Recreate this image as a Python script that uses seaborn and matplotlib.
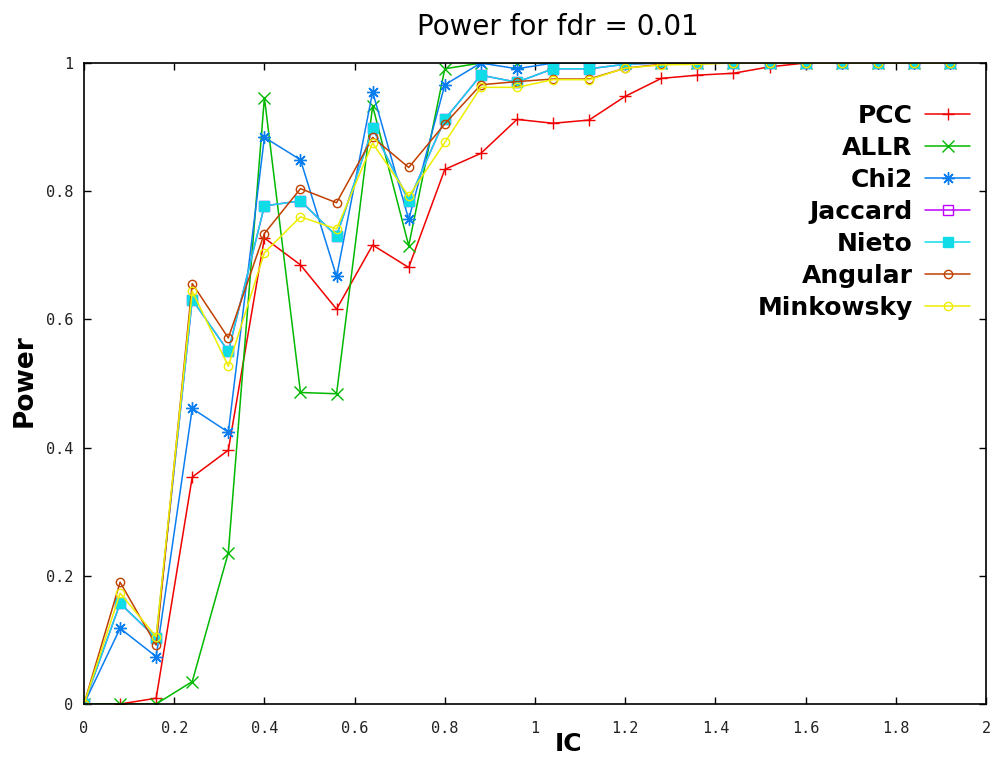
import matplotlib
matplotlib.use("Agg")
import matplotlib.pyplot as plt
import seaborn as sns

# IC grid on which the power was evaluated
ic = [0.00, 0.08, 0.16, 0.24, 0.32, 0.40, 0.48, 0.56, 0.64, 0.72,
      0.80, 0.88, 0.96, 1.04, 1.12, 1.20, 1.28, 1.36, 1.44, 1.52,
      1.60, 1.68, 1.76, 1.84, 1.92]

# Power of each similarity measure at fdr = 0.01
pcc = [0.000, 0.000, 0.009, 0.354, 0.396, 0.727, 0.685, 0.616, 0.716, 0.681,
       0.834, 0.859, 0.912, 0.906, 0.911, 0.948, 0.976, 0.981, 0.984, 0.994,
       1.000, 1.000, 1.000, 1.000, 1.000]
allr = [0.000, 0.000, 0.000, 0.035, 0.236, 0.946, 0.486, 0.484, 0.933, 0.715,
        0.991, 1.000, 1.000, 1.000, 1.000, 1.000, 1.000, 1.000, 1.000, 1.000,
        1.000, 1.000, 1.000, 1.000, 1.000]
chi2 = [0.000, 0.118, 0.074, 0.461, 0.424, 0.884, 0.849, 0.667, 0.955, 0.756,
        0.966, 1.000, 0.991, 1.000, 1.000, 1.000, 1.000, 1.000, 1.000, 1.000,
        1.000, 1.000, 1.000, 1.000, 1.000]
jaccard = [0.000, 0.157, 0.103, 0.631, 0.550, 0.777, 0.785, 0.730, 0.898, 0.785,
           0.912, 0.981, 0.970, 0.991, 0.991, 0.998, 1.000, 1.000, 1.000, 1.000,
           1.000, 1.000, 1.000, 1.000, 1.000]
nieto = [0.000, 0.157, 0.103, 0.631, 0.550, 0.777, 0.785, 0.730, 0.898, 0.785,
         0.912, 0.981, 0.970, 0.991, 0.991, 0.998, 1.000, 1.000, 1.000, 1.000,
         1.000, 1.000, 1.000, 1.000, 1.000]
angular = [0.000, 0.190, 0.092, 0.656, 0.571, 0.734, 0.804, 0.782, 0.884, 0.837,
           0.905, 0.966, 0.971, 0.975, 0.975, 0.992, 0.998, 0.999, 1.000, 1.000,
           1.000, 1.000, 1.000, 1.000, 1.000]
minkowsky = [0.000, 0.173, 0.105, 0.644, 0.527, 0.704, 0.760, 0.741, 0.875, 0.792,
             0.876, 0.962, 0.962, 0.974, 0.974, 0.992, 0.997, 0.998, 1.000, 1.000,
             1.000, 1.000, 1.000, 1.000, 1.000]

measures = ["PCC", "ALLR", "Chi2", "Jaccard", "Nieto", "Angular", "Minkowsky"]
series = [pcc, allr, chi2, jaccard, nieto, angular, minkowsky]

x_ticks = [0, 0.2, 0.4, 0.6, 0.8, 1.0, 1.2, 1.4, 1.6, 1.8, 2.0]
x_tick_labels = ["0", "0.2", "0.4", "0.6", "0.8", "1", "1.2", "1.4", "1.6", "1.8", "2"]
y_ticks = [0, 0.2, 0.4, 0.6, 0.8, 1.0]
y_tick_labels = ["0", "0.2", "0.4", "0.6", "0.8", "1"]

# gnuplot-like line styles: colour, marker, filled?
colors = ["#f00000", "#00b800", "#0a7ef0", "#c000ff", "#10dce8", "#c04000", "#eeee00"]
markers = ["+", "x", (8, 2, 0), "s", "s", "o", "o"]
filled = [True, True, True, False, True, False, False]
msizes = [9, 8, 9, 7, 7, 6, 6]

sns.set_style("ticks")
plt.rcParams["font.family"] = ["DejaVu Sans"]
plt.rcParams["text.color"] = "black"

W, H = 993, 758
fig = plt.figure(figsize=(W / 100, H / 100), dpi=100)
L, R, T, B = 84, 986, 63, 704
ax = fig.add_axes([L / W, 1 - B / H, (R - L) / W, (B - T) / H])

for name, vals, c, m, f, ms in zip(measures, series, colors, markers, filled, msizes):
    sns.lineplot(x=ic, y=vals, ax=ax, color=c, marker=m, markersize=ms,
                 markeredgecolor=c, markerfacecolor=(c if f else "none"),
                 markeredgewidth=1.0, linewidth=1.1, label=name)

ax.set_xlim(0, 2)
ax.set_ylim(0, 1)
ax.set_xticks(x_ticks, labels=x_tick_labels, fontfamily="DejaVu Sans Mono",
              fontsize=11, color="#222222")
ax.set_yticks(y_ticks, labels=y_tick_labels, fontfamily="DejaVu Sans Mono",
              fontsize=11, color="#222222")
ax.tick_params(axis="both", direction="in", length=5, width=1.0,
               top=True, right=True, color="black")
ax.tick_params(axis="x", pad=12)
ax.tick_params(axis="y", pad=8)
for sp in ax.spines.values():
    sp.set_visible(True)
    sp.set_color("black")
    sp.set_linewidth(1.2)
ax.set_xlabel("")
ax.set_ylabel("")

fig.text(558 / W, 1 - 35 / H, "Power for fdr = 0.01", ha="center", va="baseline",
         fontsize=20, color="black")
fig.text(569 / W, 1 - 751 / H, "IC", ha="center", va="baseline",
         fontsize=18, fontweight="bold", color="black")
fig.text(25 / W, 1 - 381 / H, "Power", ha="center", va="center", rotation=90,
         fontsize=19, fontweight="bold", color="black")

leg = ax.legend(loc="upper right", bbox_to_anchor=(970 / W, 1 - 104 / H),
                bbox_transform=fig.transFigure, frameon=False, markerfirst=False,
                borderpad=0, borderaxespad=0, labelspacing=0.32,
                handlelength=1.8, handletextpad=0.5,
                prop={"weight": "bold", "size": 18})
for t in leg.get_texts():
    t.set_color("black")

fig.savefig("out.png", dpi=100)
